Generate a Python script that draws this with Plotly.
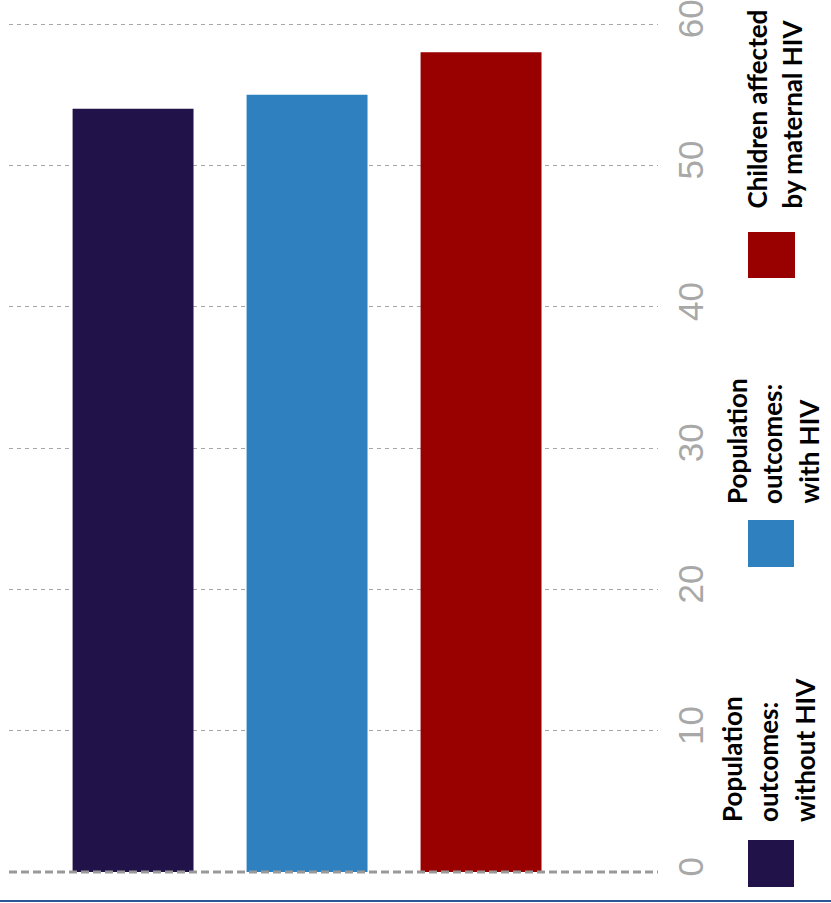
import plotly.graph_objects as go

categories = ["Population outcomes: without HIV", "Population outcomes: with HIV", "Children affected by maternal HIV"]
values = [54.0, 55.0, 58.0]
colors = ["#21134a", "#2e80bf", "#990000"]
legend_lines = [["Population", "outcomes:", "without HIV"],
                ["Population", "outcomes:", "with HIV"],
                ["Children affected", "by maternal HIV"]]
tick_vals = [0, 10, 20, 30, 40, 50, 60]

W, H = 831, 903
L, R, T, B = 9, 831 - 658, 0, 31
pw, ph = W - L - R, H - T - B

def px(x):
    return (x - L) / pw

def py(y):
    return (H - B - y) / ph

fig = go.Figure()
fig.add_trace(go.Bar(x=categories, y=values, marker=dict(color=colors, line=dict(width=0)),
                     showlegend=False))

# y range so that 0 sits at y=872 and 60 at y=24
top_val = 60 * 872 / (872 - 24)

fig.update_layout(
    width=W, height=H, margin=dict(l=L, r=R, t=T, b=B, autoexpand=False),
    plot_bgcolor="white", paper_bgcolor="white",
    bargap=0.305,
    xaxis=dict(range=[-0.713, 3.017], showticklabels=False, showgrid=False, zeroline=False,
               showline=False, ticks=""),
    yaxis=dict(range=[0, top_val], side="right", tickvals=tick_vals, tickangle=-90,
               tickfont=dict(family="Liberation Sans", size=35, color="#a8a8a8"),
               showgrid=True, gridcolor="#a8a8a8", griddash="4px,4px", gridwidth=1,
               zeroline=False, showline=False, ticks="", ticklabelstandoff=9,
               ticklabeloverflow="allow"),
)

# zero line (paper-referenced so it is not clipped at the plot edge)
fig.add_shape(type="line", xref="paper", yref="paper", x0=0, x1=1, y0=0, y1=0,
              line=dict(color="#999999", width=3, dash="8px,4px"))
# bottom border line
fig.add_shape(type="line", xref="paper", yref="paper", x0=px(0), x1=px(831), y0=py(901), y1=py(901),
              line=dict(color="#2b5797", width=2))

# legend swatches and rotated labels
sw = [(748, 794, 840, 887), (748, 794, 520, 567), (748, 795, 232, 278)]
text_x = [[732, 768, 805], [737, 772, 808], [756, 791]]
text_bottom = [824, 506, 211]
for i in range(3):
    x0, x1, y0, y1 = sw[i]
    fig.add_shape(type="rect", xref="paper", yref="paper", x0=px(x0), x1=px(x1), y0=py(y1), y1=py(y0),
                  fillcolor=colors[i], line=dict(width=0))
    for j, line in enumerate(legend_lines[i]):
        fig.add_annotation(xref="paper", yref="paper", x=px(text_x[i][j]), y=py(text_bottom[i]),
                           text="<b>" + line + "</b>", textangle=-90, showarrow=False,
                           xanchor="center", yanchor="bottom",
                           font=dict(family="Lato", size=26, color="black"))

fig.write_html("out.html", config={"displayModeBar": False},
               post_script="document.body.style.margin='0';")
